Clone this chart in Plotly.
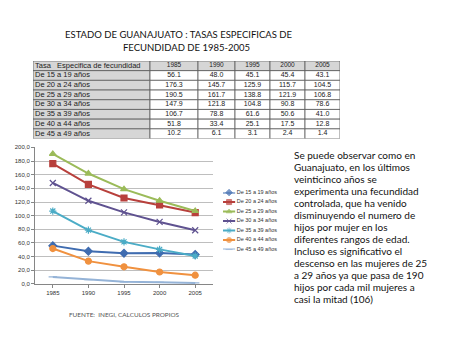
import plotly.graph_objects as go

years = ["1985", "1990", "1995", "2000", "2005"]
groups = ["De 15 a 19 años", "De 20 a 24 años", "De 25 a 29 años", "De 30 a 34 años",
          "De 35 a 39 años", "De 40 a 44 años", "De 45 a 49 años"]
v15_19 = [56.1, 48.0, 45.1, 45.4, 43.1]
v20_24 = [176.3, 145.7, 125.9, 115.7, 104.5]
v25_29 = [190.5, 161.7, 138.8, 121.9, 106.8]
v30_34 = [147.9, 121.8, 104.8, 90.8, 78.6]
v35_39 = [106.7, 78.8, 61.6, 50.6, 41.0]
v40_44 = [51.8, 33.4, 25.1, 17.5, 12.8]
v45_49 = [10.2, 6.1, 3.1, 2.4, 1.4]
series = [v15_19, v20_24, v25_29, v30_34, v35_39, v40_44, v45_49]
table_header = "Tasa   Especifica de fecundidad"
y_ticks = [0, 20, 40, 60, 80, 100, 120, 140, 160, 180, 200]
y_tick_labels = ["0,0", "20,0", "40,0", "60,0", "80,0", "100,0", "120,0", "140,0", "160,0", "180,0", "200,0"]

colors = ["#3F6CB0", "#B8403C", "#9BBB59", "#5F5290", "#4BACC6", "#F0913F", "#95B3D7"]
symbols = ["diamond", "square", "triangle-up", "x-thin", "asterisk", "circle", "line-ew"]

W, H = 450, 338
def fx(px): return px / W
def fy(py): return 1 - py / H

fig = go.Figure()

# ---------- Table (own axes: x in column-width units, y in row units) ----------
col_w = [117, 48, 37, 35, 35, 35]
tbl_left, tbl_top, tbl_bottom = 33, 59, 138
edges = [0]
for w in col_w:
    edges.append(edges[-1] + w)
n_rows = len(groups) + 1
gray = "#D6D6D6"
border = "#5A5A5A"
shapes = []
for r in range(n_rows):
    for c in range(len(col_w)):
        fill = gray if (r == 0 or c == 0) else "#FFFFFF"
        shapes.append(dict(type="rect", xref="x3", yref="y3",
                           x0=edges[c], x1=edges[c + 1], y0=r, y1=r + 1,
                           fillcolor=fill, line=dict(color=border, width=0.8), layer="below"))

lab_font = dict(family="Liberation Sans", size=7.5, color="#222222")
num_font = dict(family="Liberation Sans", size=7, color="#222222")
fig.add_trace(go.Scatter(x=[2], y=[0.5], text=[table_header], mode="text", textposition="middle right",
                         textfont=lab_font, xaxis="x3", yaxis="y3", showlegend=False, hoverinfo="skip",
                         cliponaxis=False))
fig.add_trace(go.Scatter(x=[(edges[i + 1] + edges[i + 2]) / 2 for i in range(5)], y=[0.5] * 5,
                         text=years, mode="text", textposition="middle center",
                         textfont=dict(family="Liberation Sans", size=6.5, color="#222222"),
                         xaxis="x3", yaxis="y3", showlegend=False, hoverinfo="skip", cliponaxis=False))
fig.add_trace(go.Scatter(x=[2] * len(groups), y=[r + 1.5 for r in range(len(groups))], text=groups,
                         mode="text", textposition="middle right", textfont=lab_font,
                         xaxis="x3", yaxis="y3", showlegend=False, hoverinfo="skip", cliponaxis=False))
for i in range(5):
    fig.add_trace(go.Scatter(x=[(edges[i + 1] + edges[i + 2]) / 2] * len(groups),
                             y=[r + 1.5 for r in range(len(groups))],
                             text=[f"{s[i]:.1f}" for s in series],
                             mode="text", textposition="middle center", textfont=num_font,
                             xaxis="x3", yaxis="y3", showlegend=False, hoverinfo="skip", cliponaxis=False))

# ---------- Lines ----------
for name, vals, c, s in zip(groups, series, colors, symbols):
    fig.add_trace(go.Scatter(
        x=years, y=vals, name=name, mode="lines+markers",
        line=dict(color=c, width=2),
        marker=dict(symbol=s, size=6, color=c, line=dict(color=c, width=1.2)),
        xaxis="x", yaxis="y", showlegend=False,
    ))

# ---------- Compact legend ----------
for i, (name, c, s) in enumerate(zip(groups, colors, symbols)):
    fig.add_trace(go.Scatter(
        x=[0, 0.5, 1], y=[i, i, i], mode="lines+markers+text",
        text=["", "", " " + name], textposition="middle right",
        textfont=dict(family="Liberation Sans", size=5.5, color="#333333"),
        line=dict(color=c, width=2),
        marker=dict(symbol=s, size=[0, 5, 0], color=c, line=dict(color=c, width=1)),
        xaxis="x2", yaxis="y2", showlegend=False, hoverinfo="skip", cliponaxis=False,
    ))

fig.update_layout(
    width=W, height=H, autosize=False,
    margin=dict(l=0, r=0, t=0, b=0),
    paper_bgcolor="white", plot_bgcolor="white",
    showlegend=False,
    shapes=shapes,
    xaxis=dict(domain=[fx(35), fx(213)], type="category", range=[-0.5, 4.5],
               showgrid=False, showline=True, linecolor="#868686", linewidth=1,
               ticks="outside", ticklen=3, tickcolor="#868686",
               tickfont=dict(family="Liberation Sans", size=6, color="#333333"),
               anchor="y", fixedrange=True),
    yaxis=dict(domain=[fy(286), fy(147)], range=[0, 200],
               tickvals=y_ticks, ticktext=y_tick_labels,
               showgrid=True, gridcolor="#BEBEBE", gridwidth=1,
               showline=True, linecolor="#868686", linewidth=1,
               ticks="outside", ticklen=3, tickcolor="#868686",
               tickfont=dict(family="Liberation Sans", size=6, color="#333333"),
               zeroline=False, anchor="x", fixedrange=True),
    xaxis2=dict(domain=[fx(223), fx(296)], range=[0, 6], visible=False, anchor="y2"),
    yaxis2=dict(domain=[fy(251), fy(193)], range=[6, 0], visible=False, anchor="x2"),
    xaxis3=dict(domain=[fx(tbl_left), fx(tbl_left + edges[-1])], range=[0, edges[-1]],
                visible=False, anchor="y3"),
    yaxis3=dict(domain=[fy(tbl_bottom), fy(tbl_top)], range=[n_rows, 0], visible=False, anchor="x3"),
)

title_font = dict(family="Lato", size=9.5, color="#111111")
fig.add_annotation(text="ESTADO DE GUANAJUATO : TASAS ESPECIFICAS DE", x=fx(179), y=fy(32),
                   xref="paper", yref="paper", showarrow=False, font=title_font, xanchor="center", yanchor="middle")
fig.add_annotation(text="FECUNDIDAD DE 1985-2005", x=fx(186), y=fy(45),
                   xref="paper", yref="paper", showarrow=False, font=title_font, xanchor="center", yanchor="middle")
fig.add_annotation(text="FUENTE:  INEGI, CALCULOS PROPIOS", x=fx(67), y=fy(317),
                   xref="paper", yref="paper", showarrow=False,
                   font=dict(family="Lato", size=6.4, color="#555555"), xanchor="left", yanchor="middle")

body_lines = [
    "Se puede observar como en",
    "Guanajuato, en los últimos",
    "veinticinco años se",
    "experimenta una fecundidad",
    "controlada, que ha venido",
    "disminuyendo el numero de",
    "hijos por mujer en los",
    "diferentes rangos de edad.",
    "Incluso es significativo el",
    "descenso en las mujeres de 25",
    "a 29 años ya que pasa de 190",
    "hijos por cada mil mujeres a",
    "casi la mitad (106)",
]
for i, line in enumerate(body_lines):
    fig.add_annotation(text=line, x=fx(292), y=fy(155 + i * 12.2),
                       xref="paper", yref="paper", showarrow=False,
                       font=dict(family="Lato", size=10, color="#111111"),
                       xanchor="left", yanchor="middle")

fig.write_html("out.html")
